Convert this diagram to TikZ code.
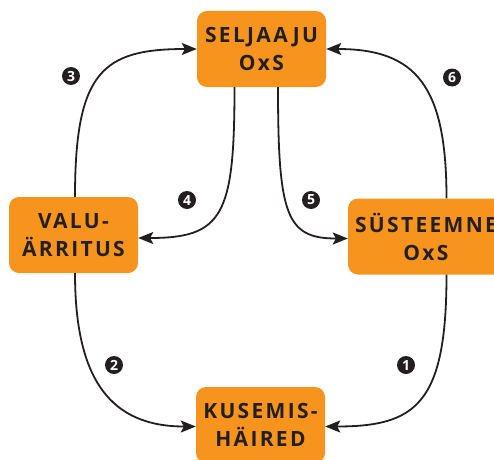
\documentclass[tikz,border=0pt]{standalone}
\usepackage{fontspec}
\setmainfont{Open Sans}
\newfontfamily\boxfont[LetterSpace=11]{Open Sans Bold}
\newfontfamily\numfont{Open Sans Bold}
\usetikzlibrary{arrows.meta,calc}

\definecolor{boxorange}{HTML}{F7941E}
\definecolor{ink}{HTML}{231F20}

\tikzset{
  stage/.style={rectangle, rounded corners=10pt, fill=boxorange, draw=none,
    minimum width=129pt, minimum height=76pt, inner sep=0pt, align=center,
    text=ink, font=\boxfont\fontsize{21}{28}\selectfont},
  link/.style={draw=ink, line width=1.8pt,
    -{Stealth[length=15pt,width=12pt,inset=3pt]}},
  num/.style={circle, fill=ink, text=white, minimum size=18pt, inner sep=0pt,
    font=\numfont\fontsize{14}{14}\selectfont},
}

% curve leaving #1 vertically and entering #2 horizontally;
% #3 and #4 pull the control points towards the shared corner
\newcommand\bendlink[4]{%
  \draw[link] (#1) .. controls ($(#1)!#3!(#1 |- #2)$)
    and ($(#2)!#4!(#1 |- #2)$) .. (#2);%
}

\begin{document}
\begin{tikzpicture}[x=1pt,y=1pt]
  \useasboundingbox (0,0) rectangle (494,459);
  \clip (0,0) rectangle (494,459);

  % stages
  \node[stage] (s) at (261.5,410) {SELJAAJU\\OxS};
  \node[stage] (v) at (73.5,224) {VALU-\\ÄRRITUS};
  \node[stage, minimum width=156pt] (r) at (426,222.5) {SÜSTEEMNE\\OxS};
  \node[stage] (k) at (260.5,34) {KUSEMIS-\\HÄIRED};

  % attachment points
  \coordinate (vN) at ([xshift=1.5pt]v.north);
  \coordinate (vS) at ([xshift=1.5pt]v.south);
  \coordinate (vE) at ([yshift=-3pt]v.east);
  \coordinate (sSW) at ([xshift=-27pt]s.south);
  \coordinate (sSE) at ([xshift=16.5pt]s.south);
  \coordinate (sW) at (s.west);
  \coordinate (sE) at (s.east);
  \coordinate (rN) at ([xshift=20.5pt]r.north);
  \coordinate (rS) at ([xshift=20.5pt]r.south);
  \coordinate (rW) at ([yshift=-2pt]r.west);
  \coordinate (kW) at ([yshift=-1.5pt]k.west);
  \coordinate (kE) at ([yshift=-1.5pt]k.east);

  % connectors
  \bendlink{vN}{sW}{0.85}{0.77}
  \bendlink{sSW}{vE}{0.85}{0.88}
  \bendlink{sSE}{rW}{0.85}{0.88}
  \bendlink{rN}{sE}{0.75}{0.75}
  \bendlink{vS}{kW}{0.7}{0.7}
  \bendlink{rS}{kE}{0.85}{0.75}

  % step numbers
  \node[num] (n1) at (406,94) {1};
  \node[num] (n2) at (114,94) {2};
  \node[num] (n3) at (71,383) {3};
  \node[num] (n4) at (187,259) {4};
  \node[num] (n5) at (311,259) {5};
  \node[num] (n6) at (452,381.5) {6};
\end{tikzpicture}
\end{document}
